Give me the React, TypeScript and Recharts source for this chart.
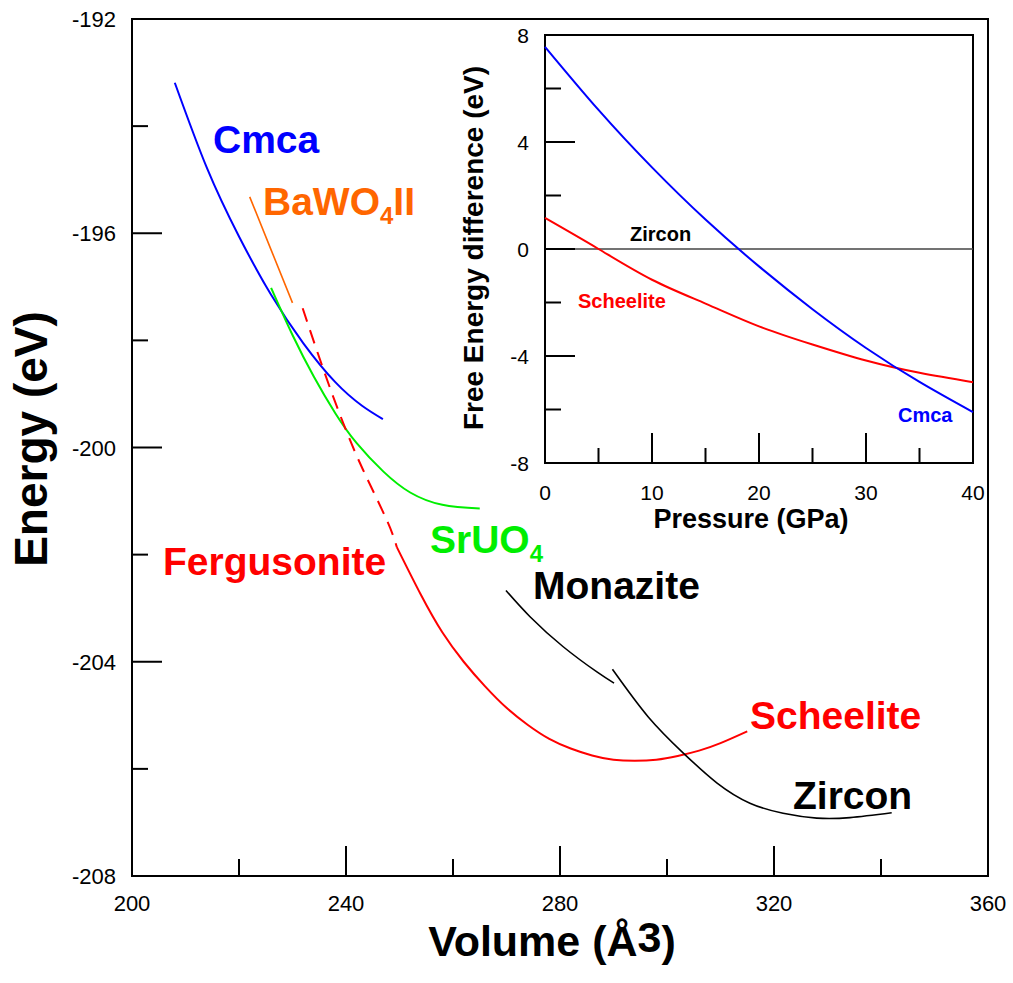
import { LineChart, Line, XAxis, YAxis, ReferenceArea } from 'recharts';

// E(V) curves, volume in Å^3 and total energy in eV
const cmcaVolume = [208, 214, 220, 226, 232, 238, 243, 246.9];
const cmcaEnergy = [-193.19, -194.78, -196.06, -197.15, -198.05, -198.78, -199.22, -199.47];

const bawo4Volume = [222, 226, 230];
const bawo4Energy = [-195.32, -196.31, -197.3];

const sruo4Volume = [226, 230, 234, 238, 242, 247, 252, 258, 265];
const sruo4Energy = [-197.02, -197.9, -198.68, -199.36, -199.92, -200.45, -200.84, -201.07, -201.14];

const fergusoniteVolume = [231.9, 235.8, 239.5, 243.2, 247.6, 249.5];
const fergusoniteEnergy = [-197.4, -198.55, -199.55, -200.42, -201.35, -201.86];

const scheeliteVolume = [249.5, 254, 258, 262, 266, 270, 274, 278, 282, 286, 290, 294, 298, 302, 306, 310, 315];
const scheeliteEnergy = [-201.86, -202.75, -203.45, -204.0, -204.46, -204.86, -205.18, -205.44, -205.62, -205.75, -205.83, -205.85, -205.83, -205.76, -205.66, -205.52, -205.3];

const monaziteVolume = [269.9, 274.4, 280.6, 286.9, 290.1];
const monaziteEnergy = [-202.67, -203.16, -203.72, -204.19, -204.4];

const zirconVolume = [289.8, 296.5, 303, 309.3, 315.5, 321.7, 328, 334.2, 342];
const zirconEnergy = [-204.14, -205.03, -205.7, -206.26, -206.64, -206.83, -206.92, -206.91, -206.82];

// free energy relative to zircon vs pressure (GPa)
const pressure = [0, 5, 10, 15, 20, 25, 30, 35, 40];
const cmcaFreeEnergy = [7.56, 5.2, 3.05, 1.1, -0.65, -2.25, -3.7, -4.97, -6.1];
const scheeliteFreeEnergy = [1.16, 0, -1.15, -2.04, -2.89, -3.57, -4.17, -4.63, -4.98];
const zirconPressure = [0, 40];
const zirconFreeEnergy = [0, 0];

const volumeTicks = [200, 220, 240, 260, 280, 300, 320, 340, 360];
const energyTicks = [-208, -206, -204, -202, -200, -198, -196, -194, -192];
const pressureTicks = [0, 5, 10, 15, 20, 25, 30, 35, 40];
const freeEnergyTicks = [-8, -6, -4, -2, 0, 2, 4, 6, 8];

const FONT = '"Liberation Sans", Arial, Helvetica, sans-serif';

const toVE = (xs: number[], ys: number[]) => xs.map((v, i) => ({ v, e: ys[i] }));
const toPF = (xs: number[], ys: number[]) => xs.map((p, i) => ({ p, f: ys[i] }));

const cmcaData = toVE(cmcaVolume, cmcaEnergy);
const bawo4Data = toVE(bawo4Volume, bawo4Energy);
const sruo4Data = toVE(sruo4Volume, sruo4Energy);
const fergusoniteData = toVE(fergusoniteVolume, fergusoniteEnergy);
const scheeliteData = toVE(scheeliteVolume, scheeliteEnergy);
const monaziteData = toVE(monaziteVolume, monaziteEnergy);
const zirconData = toVE(zirconVolume, zirconEnergy);

const cmcaInset = toPF(pressure, cmcaFreeEnergy);
const scheeliteInset = toPF(pressure, scheeliteFreeEnergy);
const zirconInset = toPF(zirconPressure, zirconFreeEnergy);

// inward ticks: long for labelled values, short for the ones between
const bottomTick = (step: number, fontSize: number, dy: number, minorLen: number) => (p: any) => {
  const value = p.payload.value;
  const major = Math.abs(value % step) < 1e-9;
  return (
    <g>
      <line x1={p.x} x2={p.x} y1={p.y} y2={p.y - (major ? 30 : minorLen)} stroke="#000" strokeWidth={2} />
      {major && (
        <text x={p.x} y={p.y + dy} textAnchor="middle" fontSize={fontSize} fontFamily={FONT} fill="#000">
          {value}
        </text>
      )}
    </g>
  );
};

const leftTick = (step: number, fontSize: number, minorLen: number) => (p: any) => {
  const value = p.payload.value;
  const major = Math.abs(value % step) < 1e-9;
  return (
    <g>
      <line x1={p.x} x2={p.x + (major ? 30 : minorLen)} y1={p.y} y2={p.y} stroke="#000" strokeWidth={2} />
      {major && (
        <text x={p.x - 16} y={p.y + 8} textAnchor="end" fontSize={fontSize} fontFamily={FONT} fill="#000">
          {value}
        </text>
      )}
    </g>
  );
};

const bold = { fontFamily: FONT, fontWeight: 700 } as const;

export default function App() {
  return (
    <div style={{ position: 'absolute', left: 0, top: 0, width: 1013, height: 983, background: '#fff' }}>
      <div style={{ position: 'absolute', left: 0, top: 0 }}>
        <LineChart width={1013} height={983} margin={{ top: 19, right: 25, bottom: 67, left: 72 }}>
          <XAxis
            type="number"
            dataKey="v"
            domain={[200, 360]}
            ticks={volumeTicks}
            interval={0}
            height={40}
            tickSize={0}
            tickMargin={0}
            tickLine={false}
            axisLine={false}
            tick={bottomTick(40, 22, 35, 17)}
          />
          <YAxis
            type="number"
            domain={[-208, -192]}
            ticks={energyTicks}
            interval={0}
            width={60}
            tickSize={0}
            tickMargin={0}
            tickLine={false}
            axisLine={false}
            tick={leftTick(4, 22, 16)}
          />
          <ReferenceArea x1={200} x2={360} y1={-208} y2={-192} stroke="#000" strokeWidth={2} fill="none" />
          <Line data={cmcaData} dataKey="e" type="natural" stroke="#0000ff" strokeWidth={2} dot={false} isAnimationActive={false} />
          <Line data={bawo4Data} dataKey="e" type="linear" stroke="#ff6600" strokeWidth={1.6} dot={false} isAnimationActive={false} />
          <Line data={sruo4Data} dataKey="e" type="natural" stroke="#00ee00" strokeWidth={2} dot={false} isAnimationActive={false} />
          <Line data={fergusoniteData} dataKey="e" type="natural" stroke="#ff0000" strokeWidth={2} strokeDasharray="14 9" dot={false} isAnimationActive={false} />
          <Line data={scheeliteData} dataKey="e" type="natural" stroke="#ff0000" strokeWidth={2} dot={false} isAnimationActive={false} />
          <Line data={monaziteData} dataKey="e" type="natural" stroke="#000" strokeWidth={1.6} dot={false} isAnimationActive={false} />
          <Line data={zirconData} dataKey="e" type="natural" stroke="#000" strokeWidth={1.6} dot={false} isAnimationActive={false} />
        </LineChart>
      </div>

      <div style={{ position: 'absolute', left: 0, top: 0 }}>
        <LineChart width={1013} height={983} margin={{ top: 35, right: 40, bottom: 480, left: 485 }}>
          <XAxis
            type="number"
            dataKey="p"
            domain={[0, 40]}
            ticks={pressureTicks}
            interval={0}
            height={40}
            tickSize={0}
            tickMargin={0}
            tickLine={false}
            axisLine={false}
            tick={bottomTick(10, 21, 37, 15)}
          />
          <YAxis
            type="number"
            domain={[-8, 8]}
            ticks={freeEnergyTicks}
            interval={0}
            width={60}
            tickSize={0}
            tickMargin={0}
            tickLine={false}
            axisLine={false}
            tick={leftTick(4, 21, 16)}
          />
          <ReferenceArea x1={0} x2={40} y1={-8} y2={8} stroke="#000" strokeWidth={2} fill="none" />
          <Line data={zirconInset} dataKey="f" type="linear" stroke="#444" strokeWidth={1.5} dot={false} isAnimationActive={false} />
          <Line data={scheeliteInset} dataKey="f" type="natural" stroke="#ff0000" strokeWidth={2} dot={false} isAnimationActive={false} />
          <Line data={cmcaInset} dataKey="f" type="natural" stroke="#0000ff" strokeWidth={2} dot={false} isAnimationActive={false} />
        </LineChart>
      </div>

      <svg width={1013} height={983} style={{ position: 'absolute', left: 0, top: 0, pointerEvents: 'none' }}>
        {/* main plot annotations */}
        <text x={47} y={439} transform="rotate(-90 47 439)" textAnchor="middle" fontSize={46} {...bold} fill="#000">
          Energy (eV)
        </text>
        <text x={552} y={956} textAnchor="middle" fontSize={43} {...bold} fill="#000">
          Volume (Å<tspan dy={-4}>3</tspan>
          <tspan dy={4}>)</tspan>
        </text>
        <text x={213} y={153} fontSize={39} {...bold} fill="#0000ff">Cmca</text>
        <text x={263} y={215} fontSize={39} {...bold} fill="#ff6600">
          BaWO<tspan fontSize={24} dy={9}>4</tspan>
          <tspan dy={-9}>II</tspan>
        </text>
        <text x={430} y={553} fontSize={39} {...bold} fill="#00ee00">
          SrUO<tspan fontSize={24} dy={9}>4</tspan>
        </text>
        <text x={163} y={575} fontSize={39} {...bold} fill="#ff0000">Fergusonite</text>
        <text x={533} y={599} fontSize={39} {...bold} fill="#000">Monazite</text>
        <text x={750} y={729} fontSize={39} {...bold} fill="#ff0000">Scheelite</text>
        <text x={793} y={809} fontSize={39} {...bold} fill="#000">Zircon</text>

        {/* inset annotations */}
        <text x={483} y={248} transform="rotate(-90 483 248)" textAnchor="middle" fontSize={28} {...bold} fill="#000">
          Free Energy difference (eV)
        </text>
        <text x={751} y={528} textAnchor="middle" fontSize={27} {...bold} fill="#000">
          Pressure (GPa)
        </text>
        <text x={630} y={241} fontSize={20} {...bold} fill="#000">Zircon</text>
        <text x={578} y={308} fontSize={20} {...bold} fill="#ff0000">Scheelite</text>
        <text x={898} y={422} fontSize={20} {...bold} fill="#0000ff">Cmca</text>
      </svg>
    </div>
  );
}
